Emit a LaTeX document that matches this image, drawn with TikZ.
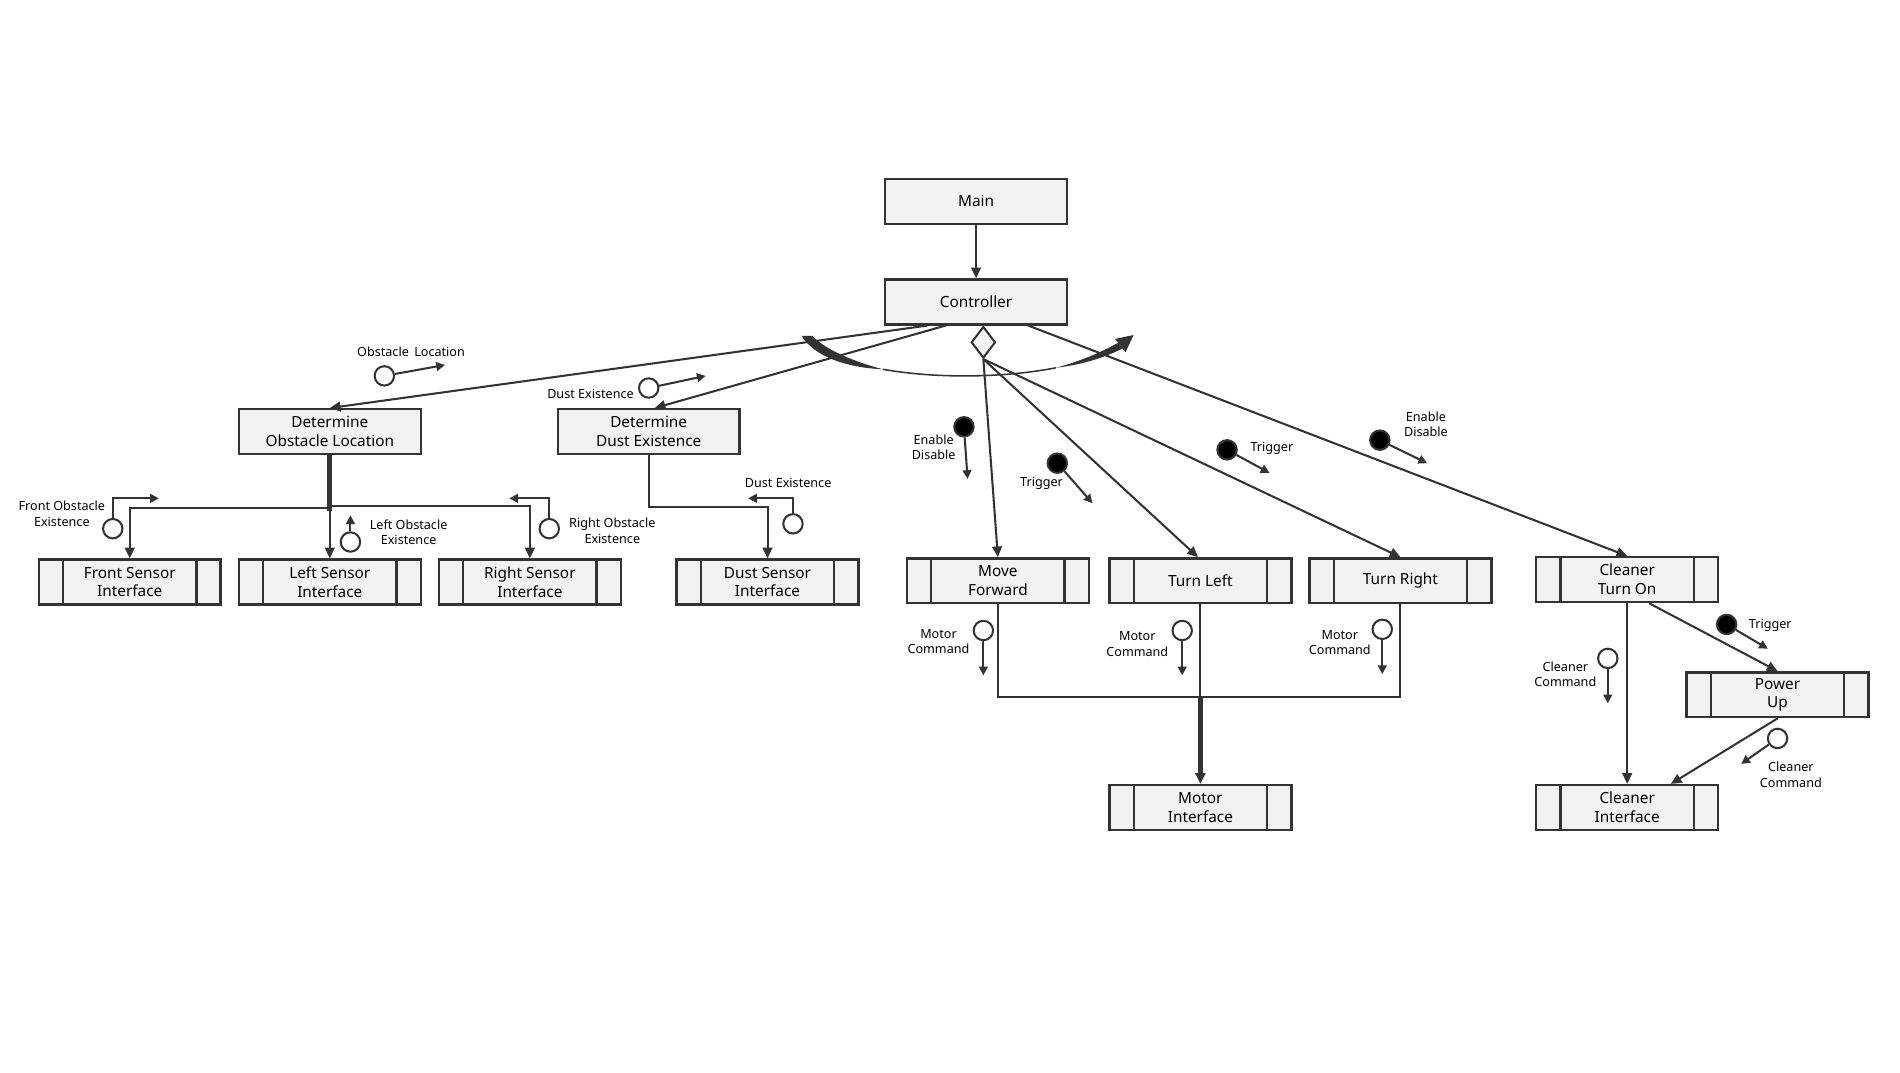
\documentclass[tikz,border=0pt]{standalone}
\usepackage{fontspec}
\setmainfont{Noto Sans}
\usetikzlibrary{shapes.geometric, arrows.meta}
\definecolor{scline}{HTML}{333333}
\definecolor{scfill}{HTML}{F2F2F2}

\begin{document}
\begin{tikzpicture}[x=0.25mm, y=-0.25mm,
    module/.style={rectangle, draw=scline, line width=1.4pt, fill=scfill, minimum width=37.5mm, minimum height=9.25mm, inner sep=0pt, align=center, font=\fontsize{9}{11}\selectfont},
    libmodule/.style={module, path picture={
        \draw[scline, line width=1.4pt] ([xshift=5mm]path picture bounding box.north west) -- ([xshift=5mm]path picture bounding box.south west);
        \draw[scline, line width=1.4pt] ([xshift=-5mm]path picture bounding box.north east) -- ([xshift=-5mm]path picture bounding box.south east);}},
    selector/.style={diamond, aspect=0.77, draw=scline, line width=1.2pt, fill=scfill, minimum width=5mm, minimum height=6.5mm, inner sep=0pt},
    link/.style={draw=scline, line width=1.2pt},
    arrow/.style={link, -{Triangle[length=2.2mm, width=2mm]}},
    thickarrow/.style={arrow, line width=2.8pt},
    dcouple/.style={circle, draw=scline, line width=1.2pt, fill=white, minimum size=4mm, inner sep=0pt},
    ccouple/.style={dcouple, fill=black},
    flow/.style={link, -{Triangle[length=1.8mm, width=1.8mm]}},
    lbl/.style={font=\fontsize{7.4}{9.2}\selectfont, align=center, inner sep=0pt}
]
\useasboundingbox (0,0) rectangle (1567,884.8);

% Top modules
\node[module] (main) at (805,166) {Main};
\node[module] (ctrl) at (805,249) {Controller};
\node[selector, anchor=north] (sel) at ([xshift=1.5mm]ctrl.south) {};
\node[module] (detobs) at (272,356) {Determine\\Obstacle Location};
\node[module] (detdust) at (535,356) {Determine\\Dust Existence};

% Library modules
\node[libmodule] (fsensor) at (107,480) {Front Sensor\\Interface};
\node[libmodule] (lsensor) at (272,480) {Left Sensor\\Interface};
\node[libmodule] (rsensor) at (437,480) {Right Sensor\\Interface};
\node[libmodule] (dsensor) at (633,480) {Dust Sensor\\Interface};
\node[libmodule] (fwd) at (823,479) {Move\\Forward};
\node[libmodule] (tleft) at (990,479) {Turn Left};
\node[libmodule] (tright) at (1155,479) {Turn Right};
\node[libmodule] (clon) at (1342,478) {Cleaner\\Turn On};
\node[libmodule] (pwr) at (1466,573) {Power\\Up};
\node[libmodule] (motor) at (990,666) {Motor\\Interface};
\node[libmodule] (clif) at (1342,666) {Cleaner\\Interface};

% Calls from Main and Controller
\draw[arrow] (main) -- (ctrl);
\draw[arrow] ([xshift=-10mm]ctrl.south) -- (detobs.north);
\draw[arrow] ([xshift=-6.25mm]ctrl.south) -- ([xshift=1.25mm]detdust.north);
\draw[arrow] ([xshift=10.75mm]ctrl.south) -- (clon.north);
\draw[arrow] (sel.south) -- (fwd.north);
\draw[arrow] (sel.south) -- ([xshift=-0.5mm]tleft.north);
\draw[arrow] (sel.south) -- (tright.north);

% Iteration
\fill[scline] (661,277) .. controls (672,294) and (697,303) .. (728.2,304.6)
    .. controls (700,297) and (679,287) .. (670,277) -- cycle;
\draw[scline, line width=0.9pt] (728.2,304.6) .. controls (771.7,312.3) and (827.7,311.8) .. (871,303.3);
\fill[scline] (871,303.3) .. controls (895,300.5) and (914,293.5) .. (925.9,287.3)
    -- (922.1,282.7) .. controls (911,289) and (894,297) .. (871,303.3) -- cycle;
\fill[scline] (928.3,290.5) -- (934.9,276.3) -- (919.7,279.5) -- cycle;

% Sensor calls
\draw[scline, line width=2.8pt] (detobs.south) -- ++(0,46);
\draw[arrow] (detobs.south) ++(0,43.5) -| (fsensor.north);
\draw[arrow] (detobs.south) ++(0,41.5) -| (rsensor.north);
\draw[arrow] (detobs.south) -- (lsensor.north);
\draw[arrow] (detdust.south) -- ++(0,43) -| (dsensor.north);

% Motor calls
\draw[link] (fwd.south) -- ++(0,76) -| (tright.south);
\draw[link] (tleft.south) -- ++(0,76);
\draw[thickarrow] (tleft.south) ++(0,76) -- (motor.north);

% Cleaner calls
\draw[arrow] (clon.south) -- (clif.north);
\draw[arrow] ([xshift=4.5mm]clon.south) -- (pwr.north);
\draw[arrow] (pwr.south) -- ([xshift=9mm]clif.north);

% Data couples
\node[dcouple] (oloc) at (317,310) {};
\draw[flow] (oloc) -- ++(50,-9);
\node[lbl] (olocl) at (339,290) {Obstacle\, Location};
\node[dcouple] (dex) at (535,320) {};
\draw[flow] (dex) -- ++(47,-10);
\node[lbl] (dexl) at (487,325) {Dust Existence};
\node[dcouple] (fex) at (93,436) {};
\draw[flow] (fex) -- ++(0,-25) -- ++(38,0);
\node[lbl] (fexl) at (51,424) {Front Obstacle\\Existence};
\node[dcouple] (lex) at (289,447) {};
\draw[flow] (lex) -- ++(0,-22);
\node[lbl] (lexl) at (337,439) {Left Obstacle\\Existence};
\node[dcouple] (rex) at (453,436) {};
\draw[flow] (rex) -- ++(0,-25) -- ++(-33,0);
\node[lbl] (rexl) at (505,438) {Right Obstacle\\Existence};
\node[dcouple] (dsx) at (654,432) {};
\draw[flow] (dsx) -- ++(0,-21) -- ++(-37,0);
\node[lbl] (dsxl) at (650,398) {Dust Existence};
\node[dcouple] (mc1) at (811,520) {};
\draw[flow] (mc1) -- ++(0,37);
\node[lbl] (mc1l) at (774,529) {Motor\\Command};
\node[dcouple] (mc2) at (975,520) {};
\draw[flow] (mc2) -- ++(0,37);
\node[lbl] (mc2l) at (938,531) {Motor\\Command};
\node[dcouple] (mc3) at (1140,519) {};
\draw[flow] (mc3) -- ++(0,37);
\node[lbl] (mc3l) at (1105,530) {Motor\\Command};
\node[dcouple] (cc1) at (1326,543) {};
\draw[flow] (cc1) -- ++(0,37);
\node[lbl] (cc1l) at (1291,556) {Cleaner\\Command};
\node[dcouple] (cc2) at (1466,609) {};
\draw[flow] (cc2) -- ++(-30,21);
\node[lbl] (cc2l) at (1477,639) {Cleaner\\Command};

% Control couples
\node[ccouple] (en1) at (795,352) {};
\draw[flow] (en1) -- ++(3,43);
\node[lbl] (en1l) at (770,369) {Enable\\Disable};
\node[ccouple] (tr1) at (872,382) {};
\draw[flow] (tr1) -- ++(29,33);
\node[lbl] (tr1l) at (859,399) {Trigger};
\node[ccouple] (tr2) at (1012,371) {};
\draw[flow] (tr2) -- ++(35,19);
\node[lbl] (tr2l) at (1049,370) {Trigger};
\node[ccouple] (en2) at (1138,363) {};
\draw[flow] (en2) -- ++(39,19);
\node[lbl] (en2l) at (1176,350) {Enable\\Disable};
\node[ccouple] (tr3) at (1424,515) {};
\draw[flow] (tr3) -- ++(34,20);
\node[lbl] (tr3l) at (1460,516) {Trigger};

\end{tikzpicture}
\end{document}
